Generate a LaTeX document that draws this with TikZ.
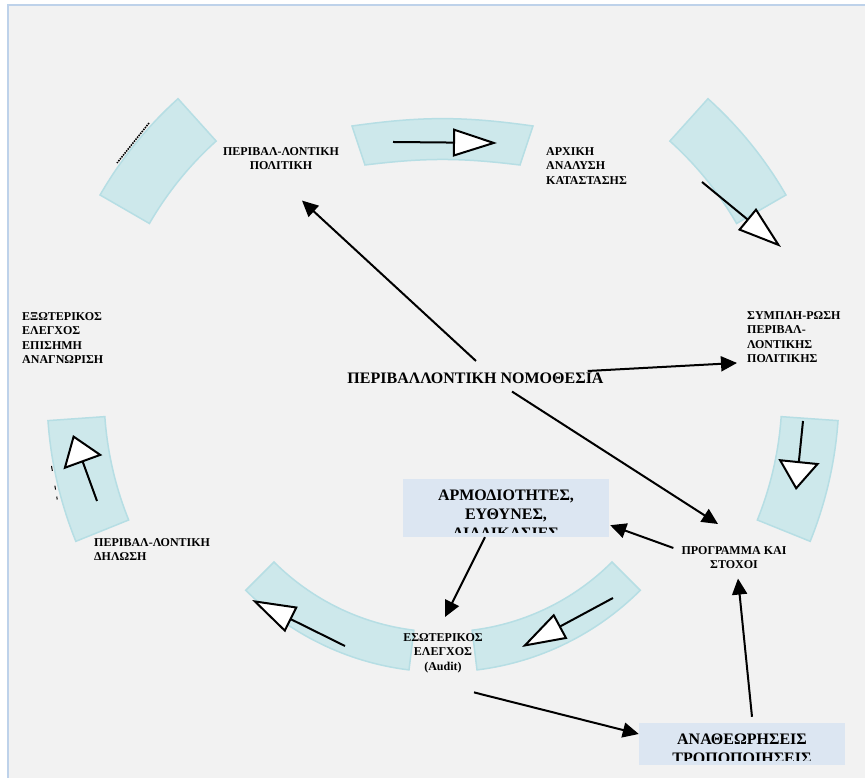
\documentclass[tikz,border=0pt]{standalone}
\usepackage{fontspec}
\setmainfont{Liberation Serif}
\usepackage{xcolor}
\usepackage{tikz}
\usetikzlibrary{positioning, arrows.meta}
\definecolor{bgfill}{RGB}{242,242,242}
\definecolor{rimblue}{RGB}{190,210,234}
\definecolor{segfill}{RGB}{205,232,235}
\definecolor{segline}{RGB}{182,222,228}
\definecolor{boxfill}{RGB}{220,230,242}

\begin{document}
\begin{tikzpicture}[x=1pt, y=1pt,
    seg/.style={draw=segline, line width=1.5pt, fill=segfill},
    segarr/.style={line width=2pt, -{Triangle[length=44pt, width=28pt, fill=white]}},
    sidearr/.style={line width=2pt, -{Triangle[length=29pt, width=41pt, fill=white]}},
    lbl/.style={font=\bfseries\fontsize{12}{14.5}\selectfont, inner sep=0pt},
    blk/.style={fill=boxfill, minimum width=206pt, inner sep=0pt},
    blktxt/.style={font=\bfseries\fontsize{16}{19}\selectfont, align=center, inner sep=0pt},
    conn/.style={line width=2pt, -{Triangle[length=16pt, width=15pt]}}]
        \useasboundingbox (0,0) rectangle (865,778);
        \fill[white] (0,0) rectangle (865,778);
        \fill[bgfill] (8,0) rectangle (865,773);
        \draw[rimblue, line width=2pt] (8.2,-2) -- (8.2,773.2) -- (867,773.2);

        % ring of segments
        \draw[seg] (352,652) to[bend left=8] (533,652) -- (520,613) to[bend right=7] (365,613) -- cycle;
        \begin{scope}[shift={(443,385)}]
        \draw[seg] (132:396) arc[start angle=132, end angle=150, radius=396] -- (150:339) arc[start angle=150, end angle=132, radius=339] -- cycle;
        \draw[seg] (30:396) arc[start angle=30, end angle=48, radius=396] -- (48:339) arc[start angle=48, end angle=30, radius=339] -- cycle;
        \draw[seg] (-22:396) arc[start angle=-22, end angle=-4, radius=396] -- (-4:339) arc[start angle=-4, end angle=-22, radius=339] -- cycle;
        \draw[seg] (184:396) arc[start angle=184, end angle=202, radius=396] -- (202:339) arc[start angle=202, end angle=184, radius=339] -- cycle;
        \draw[seg] (277:279) arc[start angle=277, end angle=315, radius=279] -- (315:239) arc[start angle=315, end angle=277, radius=239] -- cycle;
        \draw[seg] (225:279) arc[start angle=225, end angle=263, radius=279] -- (263:239) arc[start angle=263, end angle=225, radius=239] -- cycle;
        \end{scope}

        \draw[segarr] (393,636) -- (497,635);
        \draw[segarr] (702,596) -- (781,531);
        \draw[sidearr] (803,357) -- (796,288);
        \draw[segarr] (613,180) -- (522,131);
        \draw[segarr] (345,132) -- (252,178);
        \draw[sidearr] (97,277) -- (73,343);
        \draw[densely dotted, line width=1.5pt] (149,655) -- (117,615);
        \draw[line width=1pt, dash pattern=on 5pt off 15pt on 4pt off 7pt on 3pt off 10pt] (51.5,312) -- (57.5,277);

        % labels
        \node[lbl, align=center, anchor=north] (polit) at (281,631) {ΠΕΡΙΒΑΛ-ΛΟΝΤΙΚΗ\\ΠΟΛΙΤΙΚΗ};
        \node[lbl, align=left, anchor=north west] (arxiki) at (546,631) {ΑΡΧΙΚΗ\\ΑΝΑΛΥΣΗ\\ΚΑΤΑΣΤΑΣΗΣ};
        \node[lbl, align=left, anchor=north west] (symp) at (747,467) {ΣΥΜΠΛΗ-ΡΩΣΗ\\ΠΕΡΙΒΑΛ-\\ΛΟΝΤΙΚΗΣ\\ΠΟΛΙΤΙΚΗΣ};
        \node[lbl, align=center, anchor=north] (progr) at (734,232) {ΠΡΟΓΡΑΜΜΑ ΚΑΙ\\ΣΤΟΧΟΙ};
        \node[lbl, align=center, anchor=north] (eswt) at (443,145) {ΕΣΩΤΕΡΙΚΟΣ\\ΕΛΕΓΧΟΣ\\(Audit)};
        \node[lbl, align=left, anchor=north west] (dilosi) at (94,240) {ΠΕΡΙΒΑΛ-ΛΟΝΤΙΚΗ\\ΔΗΛΩΣΗ};
        \node[lbl, align=left, anchor=north west] (exwt) at (22,466) {ΕΞΩΤΕΡΙΚΟΣ\\ΕΛΕΓΧΟΣ\\ΕΠΙΣΗΜΗ\\ΑΝΑΓΝΩΡΙΣΗ};
        \node[font=\bfseries\fontsize{16}{19}\selectfont, inner sep=0pt, anchor=north] (nomos) at (475.5,405) {ΠΕΡΙΒΑΛΛΟΝΤΙΚΗ ΝΟΜΟΘΕΣΙΑ};

        % boxes
        \node[blk, minimum height=58pt] (armod) at (506,270) {};
        \begin{scope}
        \clip ([yshift=5pt]armod.south west) rectangle (armod.north east);
        \node[blktxt, below=11pt of armod.north] (armodtxt) {ΑΡΜΟΔΙΟΤΗΤΕΣ,\\ΕΥΘΥΝΕΣ,\\ΔΙΑΔΙΚΑΣΙΕΣ};
        \end{scope}
        \node[blk, minimum height=42pt] (anath) at (742,34) {};
        \begin{scope}
        \clip ([yshift=5pt]anath.south west) rectangle (anath.north east);
        \node[blktxt, below=11pt of anath.north] (anathtxt) {ΑΝΑΘΕΩΡΗΣΕΙΣ\\ΤΡΟΠΟΠΟΙΗΣΕΙΣ};
        \end{scope}

        % connectors
        \draw[conn] ([xshift=0.5pt, yshift=12pt]nomos.north) -- ([xshift=21pt, yshift=-30.6pt]polit.south);
        \draw[conn] ([xshift=-16pt, yshift=2pt]nomos.north east) -- ([xshift=-10pt]symp.south west);
        \draw[conn] ([xshift=36.5pt, yshift=-7.4pt]nomos.south) -- ([xshift=-16pt, yshift=22pt]progr.north);
        \draw[conn] ([xshift=-8pt, yshift=-2pt]progr.north west) -- ([xshift=1pt, yshift=12pt]armod.south east);
        \draw[conn] ([xshift=-21pt]armod.south) -- ([xshift=2pt, yshift=16pt]eswt.north);
        \draw[conn] ([xshift=31pt, yshift=-19.5pt]eswt.south) -- ([yshift=10pt]anath.west);
        \draw[conn] ([xshift=10pt, yshift=6pt]anath.north) -- ([xshift=4pt, yshift=-9.6pt]progr.south);
        \end{tikzpicture}
\end{document}
